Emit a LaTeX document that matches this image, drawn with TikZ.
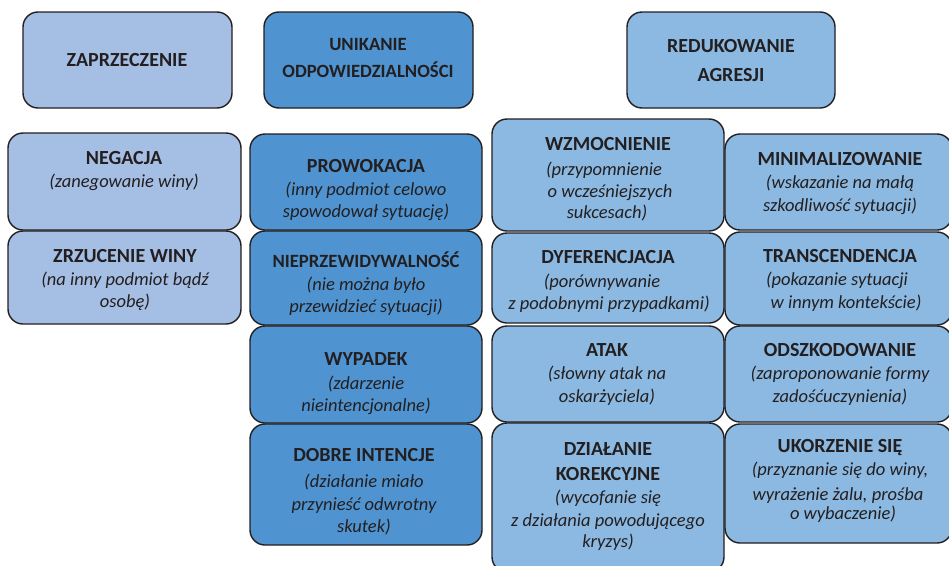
\documentclass[tikz,border=0pt]{standalone}
\usepackage{fontspec}
\setmainfont{Carlito}
\definecolor{denyfill}{RGB}{165,190,227}
\definecolor{evadefill}{RGB}{79,148,209}
\definecolor{reducefill}{RGB}{140,185,225}
\definecolor{edge}{RGB}{35,31,32}
\definecolor{ink}{RGB}{35,31,32}
\tikzset{
  tilebox/.style={draw=edge, line width=1.4pt, rounded corners=15pt,
    inner sep=0pt, outer sep=0pt},
  deny/.style={tilebox, fill=denyfill},
  evade/.style={tilebox, fill=evadefill},
  reduce/.style={tilebox, fill=reducefill},
  ttl/.style={anchor=base, inner sep=0pt, text=ink,
    font=\fontsize{20}{24}\selectfont\bfseries},
  ttlsmall/.style={ttl, font=\fontsize{18.7}{23}\selectfont\bfseries},
  sub/.style={anchor=base, inner sep=0pt, text=ink,
    font=\fontsize{18.5}{23}\selectfont\itshape}
}
% rounded box from its corners: style, name, x1, y1, x2, y2
\newcommand\tile[6]{%
  \node[#1, minimum width={(#5-#3)*1pt}, minimum height={(#6-#4)*1pt}]
    (#2) at ({(#3+#5)/2},{(#4+#6)/2}) {};}
\begin{document}
\begin{tikzpicture}[x=1pt,y=-1pt]
\useasboundingbox (0,0) rectangle (949,565);

% column headers
\tile{deny}{zaprzeczenie}{23}{12}{232}{108}
\tile{evade}{unikanie}{264}{12}{473}{108}
\tile{reduce}{redukowanie}{627}{12}{835}{108}

% denial
\tile{deny}{negacja}{8}{133}{241}{230}
\tile{deny}{zrzucenie}{8}{231}{241}{324}

% evading responsibility
\tile{evade}{prowokacja}{250}{134}{482}{230}
\tile{evade}{nieprzew}{250}{231}{482}{325}
\tile{evade}{wypadek}{250}{326}{482}{423}
\tile{evade}{intencje}{250}{424}{482}{545}

% reducing offensiveness
\tile{reduce}{wzmocnienie}{492}{119}{724}{231}
\tile{reduce}{dyferencjacja}{492}{233}{724}{323}
\tile{reduce}{atak}{492}{326}{724}{422}
\tile{reduce}{korekcja}{492}{423}{724}{572}
\tile{reduce}{minimalizowanie}{725}{134}{952}{230}
\tile{reduce}{transcendencja}{725}{232}{952}{325}
\tile{reduce}{odszkodowanie}{725}{326}{952}{422}
\tile{reduce}{ukorzenie}{725}{424}{952}{543}

% header labels
\node[ttl] at (127,66) {ZAPRZECZENIE};
\node[ttlsmall] at (368,50) {UNIKANIE};
\node[ttlsmall] at (368,77) {ODPOWIEDZIALNOŚCI};
\node[ttl] at (731,52) {REDUKOWANIE};
\node[ttl] at (731,81) {AGRESJI};

% denial labels
\node[ttl] at (124,164) {NEGACJA};
\node[sub] at (124,187) {(zanegowanie winy)};
\node[ttl] at (125,262) {ZRZUCENIE WINY};
\node[sub] at (125,285) {(na inny podmiot bądź};
\node[sub] at (125,307) {osobę)};

% evading labels
\node[ttl] at (366,172) {PROWOKACJA};
\node[sub] at (366,195) {(inny podmiot celowo};
\node[sub] at (366,217) {spowodował sytuację)};
\node[ttlsmall] at (366,267) {NIEPRZEWIDYWALNOŚĆ};
\node[sub] at (366,290) {(nie można było};
\node[sub] at (366,312) {przewidzieć sytuacji)};
\node[ttl] at (366,365) {WYPADEK};
\node[sub] at (366,389) {(zdarzenie};
\node[sub] at (366,411) {nieintencjonalne)};
\node[ttl] at (364,461) {DOBRE INTENCJE};
\node[sub] at (364,487) {(działanie miało};
\node[sub] at (364,510) {przynieść odwrotny};
\node[sub] at (364,532) {skutek)};

% reducing labels, left column
\node[ttl] at (608,150) {WZMOCNIENIE};
\node[sub] at (604,175) {(przypomnienie};
\node[sub] at (610,197) {o wcześniejszych};
\node[sub] at (607,218) {sukcesach)};
\node[ttl] at (608,263) {DYFERENCJACJA};
\node[sub] at (602,287) {(porównywanie};
\node[sub] at (609,309) {z podobnymi przypadkami)};
\node[ttl] at (607,356) {ATAK};
\node[sub] at (607,379) {(słowny atak na};
\node[sub] at (607,402) {oskarżyciela)};
\node[ttl] at (608,455) {DZIAŁANIE};
\node[ttl] at (608,480) {KOREKCYJNE};
\node[sub] at (608,503) {(wycofanie się};
\node[sub] at (608,526) {z działania powodującego};
\node[sub] at (608,547) {kryzys)};

% reducing labels, right column
\node[ttl] at (840,165) {MINIMALIZOWANIE};
\node[sub] at (840,188) {(wskazanie na małą};
\node[sub] at (840,211) {szkodliwość sytuacji)};
\node[ttl] at (840,262) {TRANSCENDENCJA};
\node[sub] at (837,285) {(pokazanie sytuacji};
\node[sub] at (846,308) {w innym kontekście)};
\node[ttl] at (840,356) {ODSZKODOWANIE};
\node[sub] at (840,379) {(zaproponowanie formy};
\node[sub] at (840,402) {zadośćuczynienia)};
\node[ttl] at (840,452) {UKORZENIE SIĘ};
\node[sub] at (840,475) {(przyznanie się do winy,};
\node[sub] at (838,500) {wyrażenie żalu, prośba};
\node[sub] at (843,519) {o wybaczenie)};
\end{tikzpicture}
\end{document}
